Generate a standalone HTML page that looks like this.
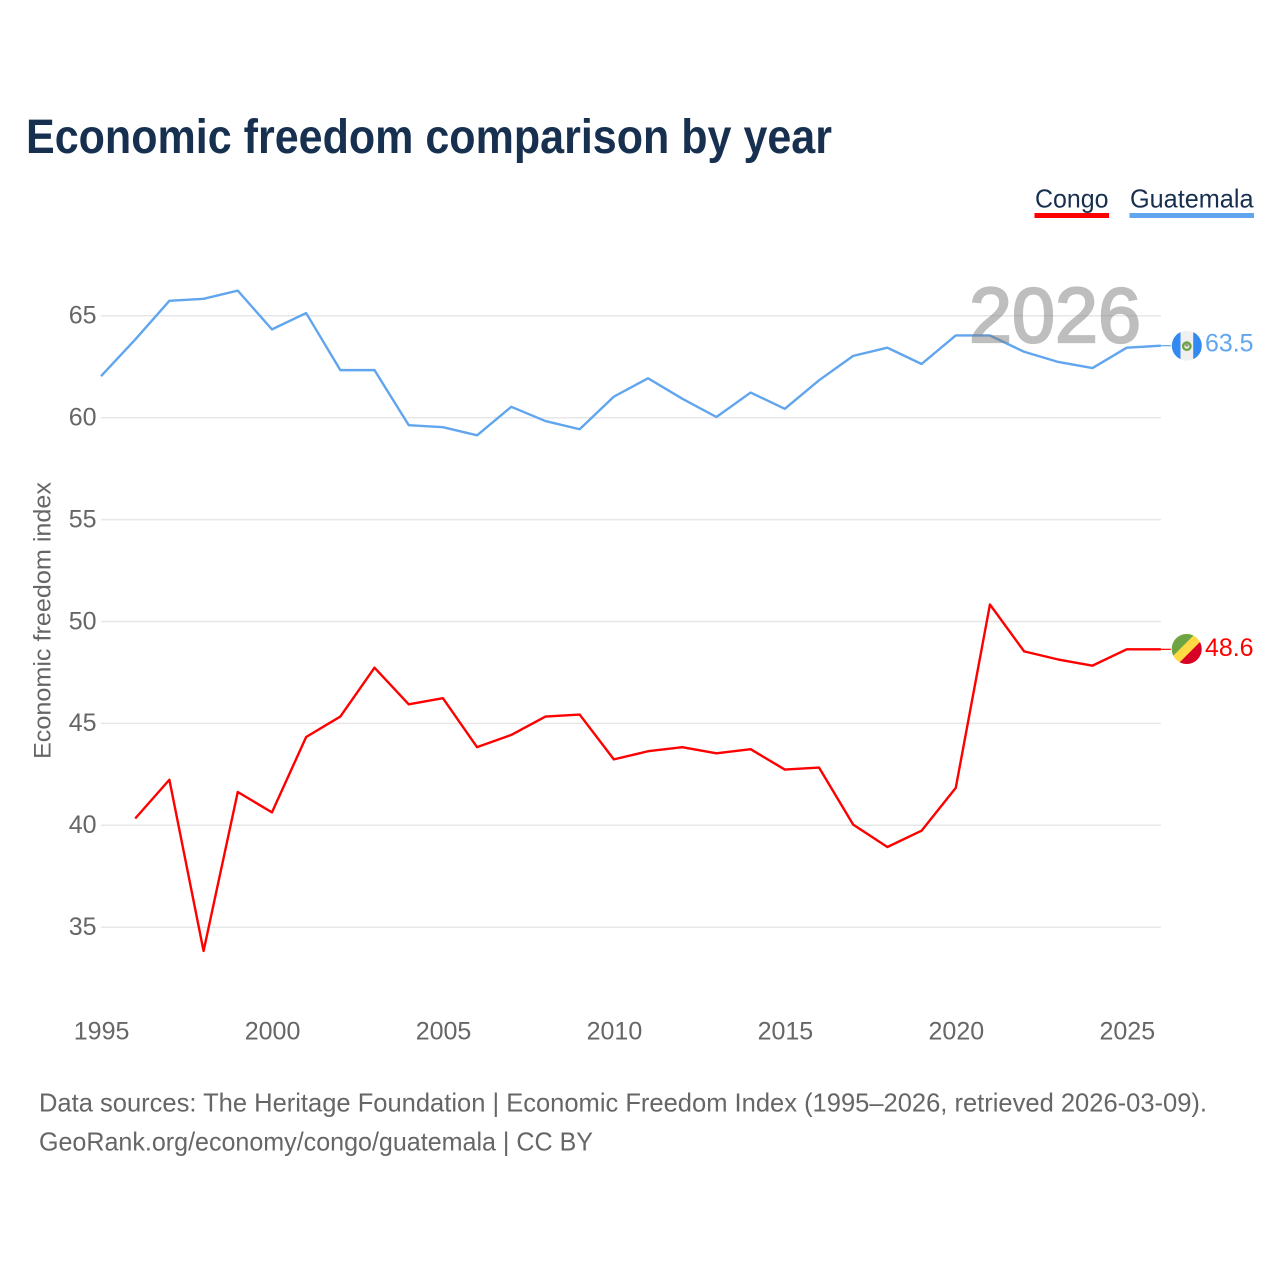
<!DOCTYPE html>
<html lang="en">
<head>
<meta charset="utf-8">
<title>Economic freedom comparison by year</title>
<style>
html,body{margin:0;padding:0;background:#fff}
svg{display:block}
text{font-family:"Liberation Sans",sans-serif}
</style>
</head>
<body>
<svg id="chart" xmlns="http://www.w3.org/2000/svg" width="1280" height="1280" viewBox="0 0 1280 1280">
  <rect width="1280" height="1280" fill="#fff"/>
  <text x="26" y="153" font-size="48" font-weight="700" fill="#18304f" textLength="806" lengthAdjust="spacingAndGlyphs">Economic freedom comparison by year</text>

  <g id="grid"></g>
  <g id="yticks"></g>
  <g id="xticks"></g>
  <text transform="translate(50.5,620.5) rotate(-90)" text-anchor="middle" font-size="24" fill="#666" textLength="277" lengthAdjust="spacingAndGlyphs">Economic freedom index</text>

  <g id="series"></g>
  <text x="969" y="342.2" font-size="78" font-weight="400" fill="#7f7f7f" stroke="#7f7f7f" stroke-width="2.2" opacity="0.5" textLength="172" lengthAdjust="spacingAndGlyphs">2026</text>

  <g>
    <text x="1035" y="207.5" font-size="26" fill="#18304f" textLength="73.5" lengthAdjust="spacingAndGlyphs">Congo</text>
    <rect x="1034.5" y="213" width="74.5" height="5" fill="#ff0000"/>
  </g>
  <g>
    <text x="1130" y="207.5" font-size="26" fill="#18304f" textLength="123.5" lengthAdjust="spacingAndGlyphs">Guatemala</text>
    <rect x="1129.5" y="213" width="124.5" height="5" fill="#60a5ee"/>
  </g>

  <defs>
    <clipPath id="flag-clip-gt"><circle cx="1186.8" cy="345.7" r="15"/></clipPath>
    <clipPath id="flag-clip-cg"><circle cx="1186.7" cy="649" r="15"/></clipPath>
  </defs>
  <g clip-path="url(#flag-clip-gt)">
    <rect x="1171" y="330" width="32" height="31" fill="#f0f0f0"/>
    <rect x="1171" y="330" width="9.5" height="31" fill="#338af3"/>
    <rect x="1193.2" y="330" width="10" height="31" fill="#338af3"/>
    <circle cx="1186.8" cy="346.2" r="3.7" fill="none" stroke="#6da544" stroke-width="2.4"/>
    <circle cx="1186.8" cy="345" r="1.8" fill="#9a9a85"/>
  </g>
  <g clip-path="url(#flag-clip-cg)">
    <rect x="1171" y="633" width="32" height="32" fill="#ffda44"/>
    <polygon points="1171,633 1196,633 1171,658" fill="#6da544"/>
    <polygon points="1203,665 1177,665 1203,639" fill="#d80027"/>
  </g>
  <text x="1205" y="351.5" font-size="25" fill="#60a5ee" textLength="48.5" lengthAdjust="spacingAndGlyphs">63.5</text>
  <text x="1205" y="656" font-size="25" fill="#ff0000" textLength="48.5" lengthAdjust="spacingAndGlyphs">48.6</text>

  <text x="39" y="1111.5" font-size="26" fill="#666" textLength="1168" lengthAdjust="spacingAndGlyphs">Data sources: The Heritage Foundation | Economic Freedom Index (1995–2026, retrieved 2026-03-09).</text>
  <text x="39" y="1150.5" font-size="26" fill="#666" textLength="554" lengthAdjust="spacingAndGlyphs">GeoRank.org/economy/congo/guatemala | CC BY</text>
</svg>
<script>
const years = [1995,1996,1997,1998,1999,2000,2001,2002,2003,2004,2005,2006,2007,2008,2009,2010,2011,2012,2013,2014,2015,2016,2017,2018,2019,2020,2021,2022,2023,2024,2025,2026];
const guatemalaValues = [62.0,63.8,65.7,65.8,66.2,64.3,65.1,62.3,62.3,59.6,59.5,59.1,60.5,59.8,59.4,61.0,61.9,60.9,60.0,61.2,60.4,61.8,63.0,63.4,62.6,64.0,64.0,63.2,62.7,62.4,63.4,63.5];
const congoValues = [null,40.3,42.2,33.8,41.6,40.6,44.3,45.3,47.7,45.9,46.2,43.8,44.4,45.3,45.4,43.2,43.6,43.8,43.5,43.7,42.7,42.8,40.0,38.9,39.7,41.8,50.8,48.5,48.1,47.8,48.6,48.6];
const yTickValues = [35,40,45,50,55,60,65];
const xTickValues = [1995,2000,2005,2010,2015,2020,2025];

const SVG_NS = 'http://www.w3.org/2000/svg';
function xScale(year) { return 101 + (year - 1995) * 34.19; }
function yScale(value) { return 417 + (60 - value) * 20.38; }

function make(tag, attrs, parentId) {
  const el = document.createElementNS(SVG_NS, tag);
  for (const k in attrs) el.setAttribute(k, attrs[k]);
  document.getElementById(parentId).appendChild(el);
  return el;
}

yTickValues.forEach(function (v) {
  const line = make('line', { x1: xScale(1995), x2: xScale(2026), y1: yScale(v) + 0.7, y2: yScale(v) + 0.7, stroke: '#e7e7e7', 'stroke-width': 1.5 }, 'grid');
  
  
  const label = make('text', { x: 96.5, y: yScale(v) + 8.5, 'text-anchor': 'end', 'font-size': 25, fill: '#666' }, 'yticks');
  
  
  label.textContent = String(v);
});

xTickValues.forEach(function (year) {
  const label = make('text', { x: xScale(year) + 0.6, y: 1039.5, 'text-anchor': 'middle', 'font-size': 25, fill: '#666' }, 'xticks');
  
  
  label.textContent = String(year);
});

function drawSeries(values, color, key) {
  const pts = [];
  values.forEach(function (v, i) {
    if (v !== null) pts.push(xScale(years[i]).toFixed(2) + ',' + yScale(v).toFixed(2));
  });
  const line = make('polyline', { points: pts.join(' '), fill: 'none', stroke: color, 'stroke-width': 2.4, 'stroke-linejoin': 'round' }, 'series');
  
  
  const lastIndex = values.length - 1;
  const connector = make('line', { x1: xScale(years[lastIndex]), x2: xScale(years[lastIndex]) + 10, y1: yScale(values[lastIndex]), y2: yScale(values[lastIndex]), stroke: color, 'stroke-width': 1.2 }, 'series');
  
  
}
drawSeries(congoValues, '#ff0000', 'congo');
drawSeries(guatemalaValues, '#60a5ee', 'guatemala');
</script>
</body>
</html>
